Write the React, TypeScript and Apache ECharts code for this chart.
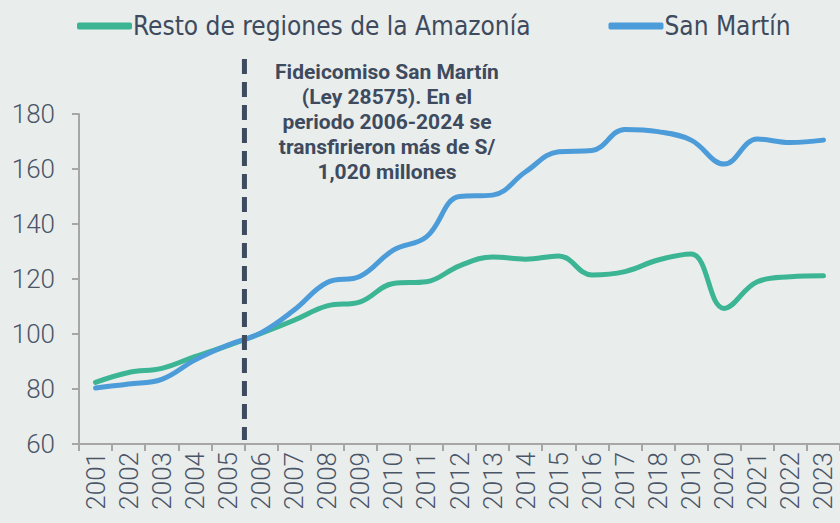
import { useEffect, useRef } from 'react';
import * as echarts from 'echarts';

const years = ['2001', '2002', '2003', '2004', '2005', '2006', '2007', '2008', '2009', '2010', '2011', '2012', '2013', '2014', '2015', '2016', '2017', '2018', '2019', '2020', '2021', '2022', '2023'];
const restoAmazonia = [82.4, 86, 87.5, 91.8, 95.8, 100.2, 105, 110.2, 111.7, 118.4, 119, 124.8, 128, 127.2, 128.4, 121.5, 122.7, 126.9, 129.1, 109.3, 119, 120.8, 121.2];
const sanMartin = [80.4, 81.8, 83.5, 90.5, 96, 100.4, 108.7, 118.7, 121, 130.5, 135.3, 150, 150.5, 159, 166.3, 166.7, 174.4, 173.6, 170.5, 161.8, 170.9, 169.6, 170.5];
const seriesNames = ['Resto de regiones de la Amazonía', 'San Martín'];
const annotationLines = ['Fideicomiso San Martín', '(Ley 28575). En el', 'periodo 2006-2024 se', 'transfirieron más de S/', '1,020 millones'];

const textColor = '#3e4a5d';
const lightFont = "'Liberation Sans Narrow', 'DejaVu Sans Condensed', Roboto, sans-serif";

export default function App() {
  const ref = useRef<HTMLDivElement>(null);
  useEffect(() => {
    const chart = echarts.init(ref.current!, null, { renderer: 'svg' });
    chart.setOption({
      animation: false,
      backgroundColor: '#e9edec',
      legend: {
        left: 72,
        top: 8,
        itemWidth: 55,
        itemHeight: 7,
        itemGap: 78,
        icon: 'roundRect',
        textStyle: { fontSize: 26, color: textColor, fontFamily: lightFont, padding: [0, 0, 0, -4] },
        data: seriesNames,
      },
      grid: { left: 79, top: 114, width: 766, height: 330, containLabel: false },
      xAxis: {
        type: 'category',
        data: years,
        boundaryGap: true,
        axisLine: { lineStyle: { color: '#a6a6a6', width: 2 } },
        axisTick: { show: true, length: 7, lineStyle: { color: '#a6a6a6', width: 2 } },
        axisLabel: { rotate: 90, fontSize: 26, color: '#4a5568', fontFamily: 'Roboto', fontWeight: 300, margin: 8, interval: 0 },
      },
      yAxis: {
        type: 'value',
        min: 60,
        max: 180,
        interval: 20,
        splitLine: { show: false },
        axisLine: { show: true, lineStyle: { color: '#a6a6a6', width: 2 } },
        axisTick: { show: true, length: 7, lineStyle: { color: '#a6a6a6', width: 2 } },
        axisLabel: { fontSize: 26, color: '#4a5568', fontFamily: 'Roboto', fontWeight: 300, margin: 24 },
      },
      series: [
        {
          name: seriesNames[0],
          type: 'line',
          data: restoAmazonia,
          smooth: 0.4,
          symbol: 'none',
          lineStyle: { width: 5, color: '#3bb593', cap: 'round' },
          itemStyle: { color: '#3bb593' },
          z: 2,
        },
        {
          name: seriesNames[1],
          type: 'line',
          data: sanMartin,
          smooth: 0.4,
          symbol: 'none',
          lineStyle: { width: 5, color: '#4c9cd9', cap: 'round' },
          itemStyle: { color: '#4c9cd9' },
          z: 3,
        },
      ],
    });
    const x1 = chart.convertToPixel({ xAxisIndex: 0 }, '2005') as number;
    const x2 = chart.convertToPixel({ xAxisIndex: 0 }, '2006') as number;
    const xm = (x1 + x2) / 2;
    const yTop = chart.convertToPixel({ yAxisIndex: 0 }, 200) as number;
    const yBot = chart.convertToPixel({ yAxisIndex: 0 }, 61.5) as number;
    const noteTexts = annotationLines.map((line, i) => ({
      type: 'text',
      id: 'note' + i,
      x: 387,
      y: 72 + i * 25,
      z: 10,
      style: {
        text: line,
        fill: textColor,
        font: 'bold 21px Roboto, sans-serif',
        align: 'center',
        verticalAlign: 'middle',
      },
    }));
    chart.setOption({
      graphic: [
        {
          type: 'line',
          id: 'divider',
          z: 10,
          shape: { x1: xm, y1: yTop, x2: xm, y2: yBot },
          style: { stroke: textColor, lineWidth: 5, lineDash: [15, 8] },
        },
        ...noteTexts,
      ],
    });
    return () => chart.dispose();
  }, []);
  return <div ref={ref} style={{ position: 'absolute', left: 0, top: 0, width: 840, height: 523 }} />;
}
